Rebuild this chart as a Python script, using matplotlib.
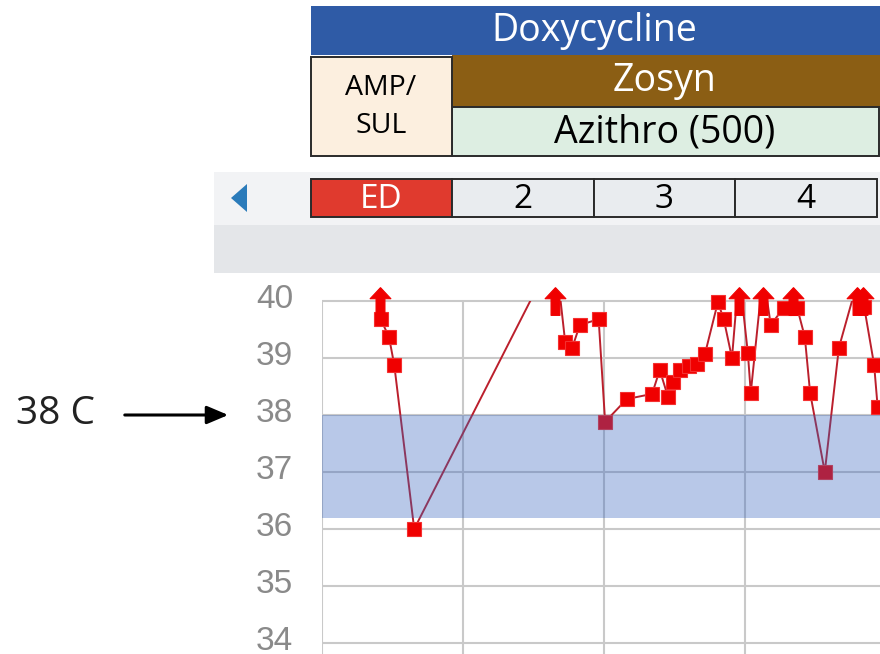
import matplotlib
matplotlib.use('Agg')
import matplotlib.pyplot as plt
import numpy as np
from matplotlib.path import Path
from matplotlib.patches import Rectangle, Polygon
from matplotlib.transforms import offset_copy

# ---- data (hours since start of ED day, temperature in C) ----
hours = [9.9, 10.0, 11.4, 12.3, 15.7, 39.7, 41.4, 42.6, 43.9, 47.1, 48.2, 51.9,
         56.2, 57.5, 58.9, 59.7, 60.9, 62.5, 63.8, 65.2, 67.4, 68.4, 69.8, 71.0,
         72.5, 73.0, 75.1, 76.4, 78.6, 80.2, 80.9, 82.2, 83.1, 85.6, 88.0, 91.1,
         92.1, 92.3, 94.0, 94.6]
temps = [40.5, 39.68, 39.37, 38.88, 36.0, 40.86, 39.28, 39.18, 39.58, 39.68, 37.88, 38.28,
         38.37, 38.79, 38.32, 38.58, 38.79, 38.86, 38.90, 39.07, 39.98, 39.68, 39.00, 40.5,
         39.09, 38.39, 40.5, 39.58, 39.88, 40.5, 39.88, 39.37, 38.39, 37.00, 39.18, 40.32,
         40.5, 39.90, 38.88, 38.14]
normal_low, normal_high = 36.2, 38.0
yticks = [34, 35, 36, 37, 38, 39, 40]
day_labels = ["ED", "2", "3", "4"]
top_drug = "Doxycycline"
mid_drug = "Zosyn"
low_drug = "Azithro (500)"
first_drug = "AMP/\nSUL"
annotation = "38 C"

W, H = 880, 654
fig = plt.figure(figsize=(W / 100, H / 100), dpi=100)
fig.patch.set_facecolor('white')

# ---- main plot axes ----
ax_left, ax_top = 322, 275
ax = fig.add_axes([ax_left / W, 0, (W - ax_left) / W, (H - ax_top) / H])
px_per_deg = 57.0
ymax = 40 + (301 - ax_top) / px_per_deg
ymin = 34 - (H - 643) / px_per_deg
ax.set_ylim(ymin, ymax)
ax.set_xlim(0, 95)
for s in ax.spines.values():
    s.set_visible(False)
ax.set_xticks([])
ax.set_yticks([])

# y tick labels (slightly above their gridlines, as in the reference)
lab_tr = offset_copy(ax.get_yaxis_transform(), fig=fig, x=-29, y=1, units='dots')
for v in yticks:
    ax.text(0, v, str(v), transform=lab_tr, ha='right', va='center', fontsize=24,
            color='#8a8a8a', fontfamily='Liberation Sans', clip_on=False)

grid_c = '#c9c9c9'
for v in yticks:
    ax.plot([0, 95], [v, v], color=grid_c, lw=1.5, zorder=1, solid_capstyle='butt')
ax.vlines([0, 24, 48, 72], ymin, 40, color=grid_c, lw=1.5, zorder=1)

h = np.array(hours)
t = np.array(temps)
line, = ax.plot(h, t, color='#bb1f2c', lw=1.4, zorder=3)
clip = Rectangle((-5, 30), 110, 10, transform=ax.transData)
line.set_clip_path(clip)

sq = t <= 40
ax.plot(h[sq], t[sq], 's', ms=10.5, mfc='#f00000', mec='#f43030', mew=0.8, zorder=4,
        clip_on=False)

arrow = Path([(0, 1), (-0.75, 0.2), (-0.32, 0.2), (-0.32, -1), (0.32, -1), (0.32, 0.2),
              (0.75, 0.2), (0, 1)])
hi = ~sq
ax.plot(h[hi], np.full(hi.sum(), 40.0), linestyle='none', marker=arrow, ms=20,
        mfc='#f00000', mec='#f00000', mew=0.8, zorder=5, clip_on=False)

ax.axhspan(normal_low, normal_high, color='#3464be', alpha=0.35, lw=0, zorder=6)

# ---- overlay for header / annotation (pixel coords) ----
ov = fig.add_axes([0, 0, 1, 1], zorder=-1)
ov.set_xlim(0, W)
ov.set_ylim(H, 0)
ov.axis('off')
ov.patch.set_visible(False)

def box(x0, y0, x1, y1, fc, ec=None, lw=1.4):
    ov.add_patch(Rectangle((x0, y0), x1 - x0, y1 - y0, facecolor=fc,
                           edgecolor=ec if ec else 'none', lw=lw))

font = 'Open Sans'
# gray strips
box(214, 172, 880, 225, '#f2f3f5')
box(214, 225, 880, 273, '#e4e6e9')
ov.add_patch(Polygon([(247, 184), (247, 212), (231, 198)], closed=True,
                     facecolor='#2b7bba', edgecolor='none'))

box(311, 6, 880, 55, '#2f5ba6')
ov.text(594, 31, top_drug, ha='center', va='center', color='white', fontsize=27,
        fontfamily=font)
box(452, 55, 880, 107, '#8b5e14')
ov.text(665, 81, mid_drug, ha='center', va='center', color='white', fontsize=27,
        fontfamily=font)
box(452, 107, 879, 156, '#ddeee2', '#2a2a2a')
ov.text(665, 132, low_drug, ha='center', va='center', color='black', fontsize=27,
        fontfamily=font)
box(311, 57, 452, 156, '#fcefdf', '#2a2a2a')
ov.text(381, 107, first_drug, ha='center', va='center', color='black', fontsize=20.5,
        fontfamily=font, linespacing=1.45)

xs = [311, 452, 594, 735, 877]
for i, lab in enumerate(day_labels):
    fc = '#e03a2e' if i == 0 else '#e9ecef'
    tc = 'white' if i == 0 else 'black'
    box(xs[i], 179, xs[i + 1], 217, fc, '#2a2a2a')
    ov.text((xs[i] + xs[i + 1]) / 2, 199, lab, ha='center', va='center', color=tc,
            fontsize=24, fontfamily=font)

ov.text(55, 414, annotation, ha='center', va='center', color='#222222', fontsize=28,
        fontfamily=font)
ov.annotate('', xy=(231, 415), xytext=(122, 415),
            arrowprops=dict(arrowstyle='-|>,head_length=1.3,head_width=0.55',
                            color='black', lw=2.2))

fig.savefig('out.png', dpi=100)
